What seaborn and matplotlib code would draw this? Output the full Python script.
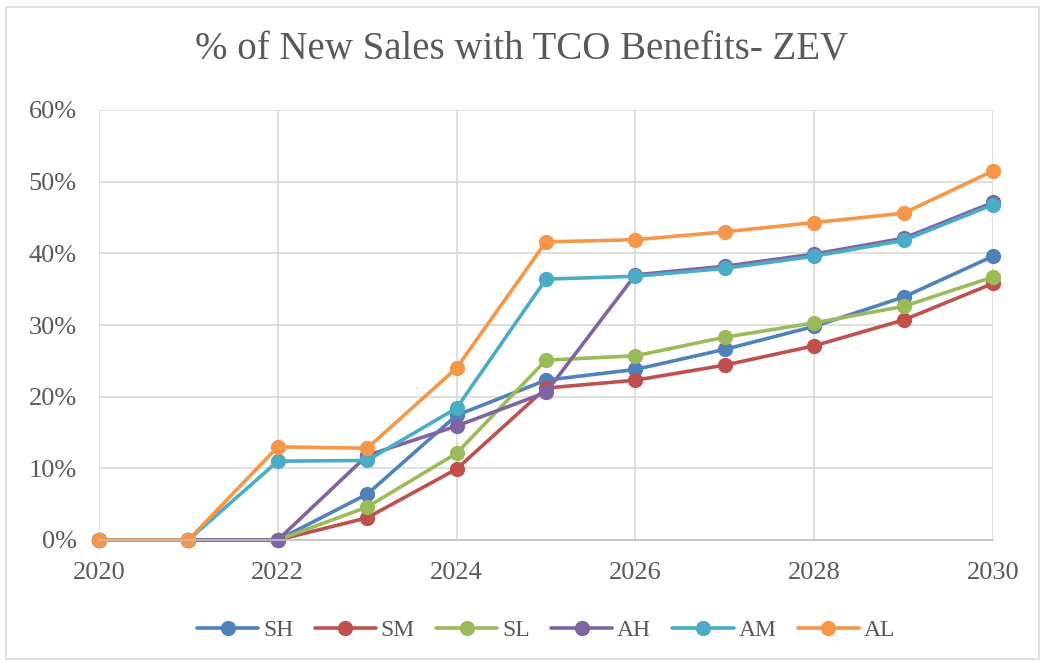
import numpy as np
import pandas as pd
import seaborn as sns
import matplotlib.pyplot as plt
from matplotlib.ticker import PercentFormatter

# Data (share of new sales, %)
years = list(range(2020, 2031))
sh = [0, 0, 0, 6.4, 17.4, 22.3, 23.8, 26.6, 29.8, 33.9, 39.6]
sm = [0, 0, 0, 3.1, 9.9, 21.2, 22.3, 24.4, 27.1, 30.7, 35.8]
sl = [0, 0, 0, 4.6, 12.1, 25.1, 25.7, 28.3, 30.3, 32.6, 36.7]
ah = [0, 0, 0, 11.8, 15.9, 20.6, 37.0, 38.2, 39.9, 42.1, 47.1]
am = [0, 0, 11.0, 11.1, 18.4, 36.4, 36.8, 37.9, 39.6, 41.8, 46.8]
al = [0, 0, 13.0, 12.8, 24.0, 41.6, 41.9, 43.0, 44.3, 45.6, 51.5]
names = ['SH', 'SM', 'SL', 'AH', 'AM', 'AL']
colors = ['#4F81BD', '#C0504D', '#9BBB59', '#8064A2', '#4BACC6', '#F79646']

df = pd.DataFrame({'year': years, 'SH': sh, 'SM': sm, 'SL': sl,
                   'AH': ah, 'AM': am, 'AL': al})
long = df.melt(id_vars='year', var_name='series', value_name='pct')

sns.set_style('white')
plt.rcParams['font.family'] = ['Liberation Serif', 'DejaVu Serif']

fig = plt.figure(figsize=(10.43, 6.63), dpi=100)
ax = fig.add_axes([99 / 1043, 1 - 540 / 663, (993 - 99) / 1043, (540 - 110) / 663])

sns.lineplot(data=long, x='year', y='pct', hue='series', hue_order=names,
             palette=colors, marker='o', markersize=11, linewidth=2.6,
             markeredgewidth=0, ax=ax, legend=True)

ax.set_xlim(2020, 2030)
ax.set_ylim(0, 60)
ax.set_xticks(range(2020, 2031, 2))
ax.set_yticks(range(0, 61, 10))
ax.yaxis.set_major_formatter(PercentFormatter(decimals=0))
ax.grid(True, color='#d9d9d9', linewidth=1.2)
ax.set_axisbelow(True)
for s in ['top', 'right', 'left']:
    ax.spines[s].set_visible(False)
ax.spines['bottom'].set_color('#bfbfbf')
ax.spines['bottom'].set_linewidth(1.2)
ax.tick_params(axis='y', length=0, labelsize=19, colors='#595959', pad=16)
ax.tick_params(axis='x', length=0, labelsize=19, colors='#595959', pad=16)
ax.set_xlabel('')
ax.set_ylabel('')

for line in ax.lines:
    line.set_clip_on(False)

ax.legend(loc='upper center', bbox_to_anchor=(0.5, -0.135), ncol=6,
          frameon=False, fontsize=17, handlelength=2.6, columnspacing=0.9,
          handletextpad=0.2)
leg = ax.get_legend()
for t in leg.get_texts():
    t.set_color('#595959')

fig.text(0.5, 1 - 50 / 663, '% of New Sales with TCO Benefits- ZEV',
         ha='center', va='center', fontsize=28, color='#595959')

# outer chart border
fig.patches.append(plt.Rectangle((6 / 1043, 4 / 663), 1 - 10 / 1043, 1 - 11 / 663,
                                 transform=fig.transFigure, fill=False,
                                 edgecolor='#d9d9d9', linewidth=1.2))

fig.savefig('out.png', dpi=100)
